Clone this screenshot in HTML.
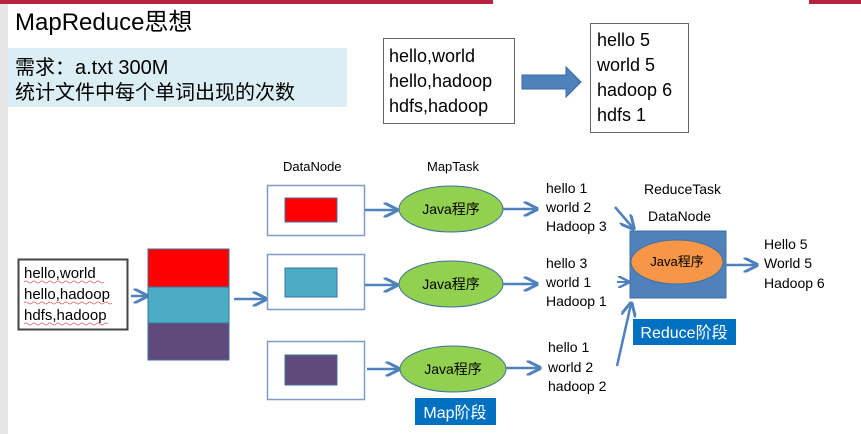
<!DOCTYPE html>
<html><head><meta charset="utf-8"><style>
html,body{margin:0;padding:0;background:#fff;}
svg{display:block;}
text{font-family:"Liberation Sans","Noto Sans CJK SC",sans-serif;fill:#000;}
</style></head><body>
<svg width="861" height="434" viewBox="0 0 861 434" xmlns="http://www.w3.org/2000/svg">
<defs>
<marker id="ah" markerWidth="6" markerHeight="6" refX="5" refY="3" orient="auto" markerUnits="strokeWidth">
<path d="M0,0 L6,3 L0,6" fill="none" stroke="#4f81bd" stroke-width="1.2"/>
</marker>
</defs>
<rect x="0" y="0" width="493" height="4" fill="#b5253f"/>
<rect x="809" y="0" width="52" height="4" fill="#b5253f"/>
<rect x="0" y="4" width="8" height="430" fill="#e6e6e6"/>

<text x="15" y="30" font-size="24">MapReduce思想</text>
<rect x="8" y="48" width="339" height="59" fill="#daeef3"/>
<text x="15" y="74" font-size="20">需求：a.txt 300M</text>
<text x="15" y="99" font-size="20">统计文件中每个单词出现的次数</text>

<rect x="383.5" y="38.5" width="131" height="85" fill="#fff" stroke="#666"/>
<text x="389" y="62" font-size="18">hello,world</text>
<text x="389" y="87" font-size="18">hello,hadoop</text>
<text x="389" y="112" font-size="18">hdfs,hadoop</text>
<path d="M522,75 L566,75 L566,67 L581,82 L566,97 L566,89 L522,89 Z" fill="#4f81bd" stroke="#3a6aa0"/>
<rect x="590.5" y="23.5" width="98" height="109" fill="#fff" stroke="#666"/>
<text x="597" y="46" font-size="18">hello 5</text>
<text x="597" y="71" font-size="18">world 5</text>
<text x="597" y="96" font-size="18">hadoop 6</text>
<text x="597" y="121" font-size="18">hdfs 1</text>

<rect x="18.5" y="259.5" width="109" height="70" fill="#fff" stroke="#444" stroke-width="2"/>
<text x="24" y="278" font-size="15">hello,world</text>
<text x="24" y="299" font-size="15">hello,hadoop</text>
<text x="24" y="320" font-size="15">hdfs,hadoop</text>
<path d="M24,282 q2,-2 4,0 t4,0 t4,0 t4,0 t4,0 t4,0 t4,0 t4,0 t4,0 t4,0 t4,0 t4,0 t4,0 t4,0 t4,0 t4,0 t4,0 t4,0 t4,0 t4,0" fill="none" stroke="#e06060" stroke-width="0.8"/>
<path d="M24,303 q2,-2 4,0 t4,0 t4,0 t4,0 t4,0 t4,0 t4,0 t4,0 t4,0 t4,0 t4,0 t4,0 t4,0 t4,0 t4,0 t4,0 t4,0 t4,0 t4,0 t4,0 t4,0 t4,0" fill="none" stroke="#e06060" stroke-width="0.8"/>
<path d="M24,324 q2,-2 4,0 t4,0 t4,0 t4,0 t4,0 t4,0 t4,0 t4,0 t4,0 t4,0 t4,0 t4,0 t4,0 t4,0 t4,0 t4,0 t4,0 t4,0 t4,0 t4,0 t4,0" fill="none" stroke="#e06060" stroke-width="0.8"/>

<line x1="131" y1="296" x2="146" y2="296" stroke="#4f81bd" stroke-width="2.5" marker-end="url(#ah)"/>
<rect x="148" y="249" width="81" height="38" fill="#ff0000" stroke="#41719c"/>
<rect x="148" y="287" width="81" height="36" fill="#4bacc6" stroke="#41719c"/>
<rect x="148" y="323" width="81" height="37" fill="#604a7b" stroke="#41719c"/>
<line x1="234" y1="299" x2="265" y2="299" stroke="#4f81bd" stroke-width="2.5" marker-end="url(#ah)"/>

<text x="283" y="171" font-size="13">DataNode</text>
<rect x="267.5" y="185.5" width="97" height="50" fill="#fff" stroke="#7f9cc4" stroke-width="1.5"/>
<rect x="267.5" y="254.5" width="97" height="55" fill="#fff" stroke="#7f9cc4" stroke-width="1.5"/>
<rect x="267.5" y="341.5" width="97" height="58" fill="#fff" stroke="#7f9cc4" stroke-width="1.5"/>
<rect x="285" y="198" width="52" height="24" fill="#ff0000" stroke="#41719c"/>
<rect x="285" y="268" width="52" height="29" fill="#4bacc6" stroke="#41719c"/>
<rect x="285" y="355" width="52" height="30" fill="#604a7b" stroke="#41719c"/>
<line x1="365" y1="210" x2="396" y2="210" stroke="#4f81bd" stroke-width="2.5" marker-end="url(#ah)"/>
<line x1="365" y1="285" x2="396" y2="285" stroke="#4f81bd" stroke-width="2.5" marker-end="url(#ah)"/>
<line x1="367" y1="369" x2="398" y2="369" stroke="#4f81bd" stroke-width="2.5" marker-end="url(#ah)"/>

<text x="427" y="171" font-size="13">MapTask</text>
<ellipse cx="451" cy="209" rx="52" ry="23" fill="#92d050" stroke="#41719c"/>
<ellipse cx="451" cy="284" rx="52" ry="23" fill="#92d050" stroke="#41719c"/>
<ellipse cx="453" cy="369" rx="53" ry="23" fill="#92d050" stroke="#41719c"/>
<text x="451" y="214" font-size="14" text-anchor="middle">Java程序</text>
<text x="451" y="289" font-size="14" text-anchor="middle">Java程序</text>
<text x="453" y="374" font-size="14" text-anchor="middle">Java程序</text>
<line x1="503" y1="209" x2="536" y2="209" stroke="#4f81bd" stroke-width="2.5" marker-end="url(#ah)"/>
<line x1="503" y1="284" x2="536" y2="284" stroke="#4f81bd" stroke-width="2.5" marker-end="url(#ah)"/>
<line x1="506" y1="368" x2="539" y2="368" stroke="#4f81bd" stroke-width="2.5" marker-end="url(#ah)"/>

<text x="546" y="193" font-size="14">hello 1</text>
<text x="546" y="212" font-size="14">world  2</text>
<text x="546" y="231" font-size="14">Hadoop 3</text>
<text x="546" y="268" font-size="14">hello 3</text>
<text x="546" y="287" font-size="14">world  1</text>
<text x="546" y="306" font-size="14">Hadoop 1</text>
<text x="548" y="352" font-size="14">hello 1</text>
<text x="548" y="372" font-size="14">world  2</text>
<text x="548" y="391" font-size="14">hadoop 2</text>

<text x="644" y="194" font-size="14">ReduceTask</text>
<text x="648" y="221" font-size="14">DataNode</text>
<rect x="630" y="231" width="96" height="67" fill="#4f81bd" stroke="#41719c"/>
<ellipse cx="677" cy="262" rx="46" ry="22" fill="#f79646" stroke="#41719c"/>
<text x="677" y="266" font-size="13" text-anchor="middle">Java程序</text>
<line x1="615" y1="207" x2="633" y2="228" stroke="#4f81bd" stroke-width="2.5" marker-end="url(#ah)"/>
<line x1="617" y1="282" x2="628" y2="282" stroke="#4f81bd" stroke-width="2" marker-end="url(#ah)"/>
<line x1="617" y1="366" x2="631" y2="304" stroke="#4f81bd" stroke-width="2.5" marker-end="url(#ah)"/>
<line x1="726" y1="265" x2="756" y2="265" stroke="#4f81bd" stroke-width="2.5" marker-end="url(#ah)"/>
<text x="764" y="249" font-size="14">Hello 5</text>
<text x="764" y="268" font-size="14">World 5</text>
<text x="764" y="288" font-size="14">Hadoop 6</text>

<rect x="633" y="319" width="103" height="26" fill="#0070c0"/>
<text x="684" y="338" font-size="16" text-anchor="middle" style="fill:#fff">Reduce阶段</text>
<rect x="415" y="398" width="81" height="27" fill="#0070c0"/>
<text x="455" y="418" font-size="16" text-anchor="middle" style="fill:#fff">Map阶段</text>
</svg>
</body></html>
